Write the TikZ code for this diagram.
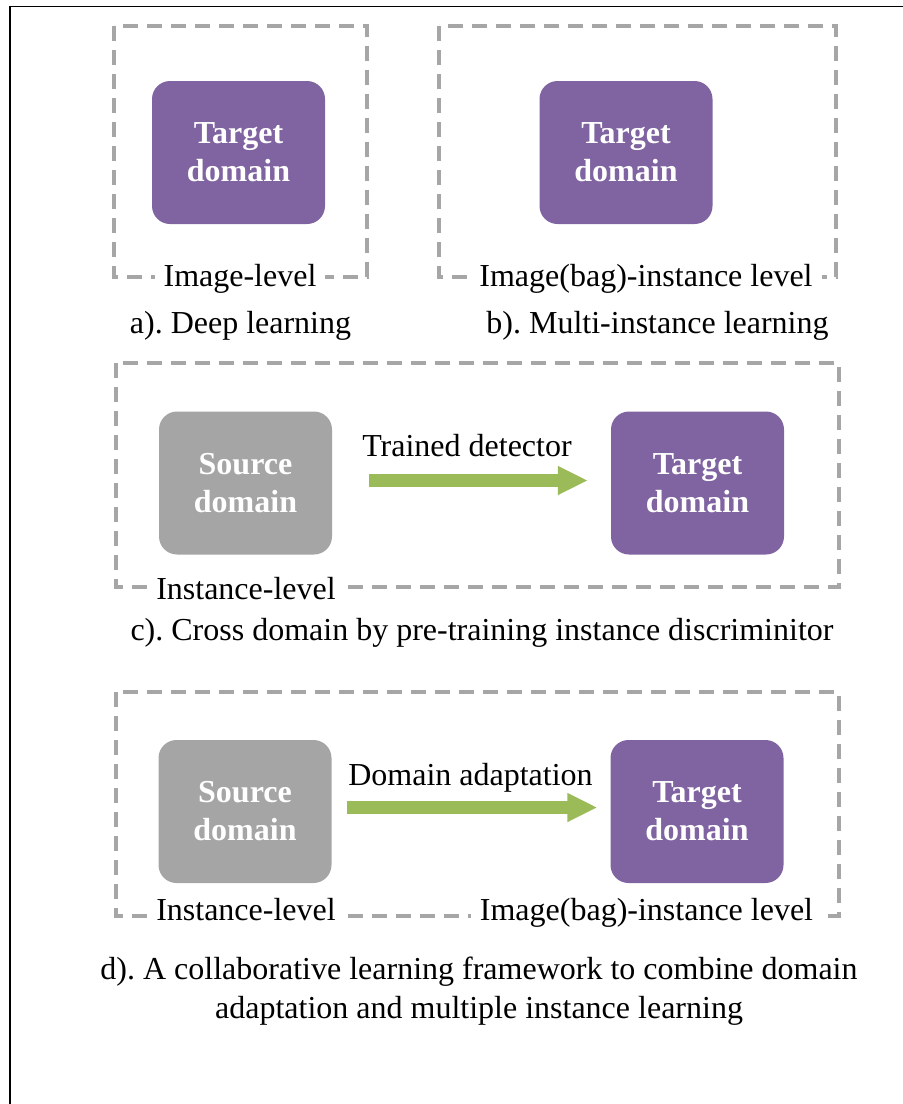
\documentclass[tikz,border=0pt]{standalone}
\usepackage{fontspec}
\setmainfont{Liberation Serif}
\usetikzlibrary{arrows.meta}
\frenchspacing
\definecolor{purp}{HTML}{8064A2}
\definecolor{srcgray}{HTML}{A5A5A5}
\definecolor{dashgray}{HTML}{A6A6A6}
\definecolor{arrgreen}{HTML}{9BBB59}
\tikzset{
  domainbox/.style={rounded corners=18pt, minimum width=173pt, minimum height=143pt,
    text=white, font=\fontsize{32}{38}\selectfont\bfseries, align=center, inner sep=0pt},
  tgt/.style={domainbox, fill=purp},
  src/.style={domainbox, fill=srcgray},
  frame/.style={draw=dashgray, line width=3.5pt, dash pattern=on 15pt off 9pt},
  txt/.style={font=\fontsize{32}{38}\selectfont\frenchspacing, anchor=base, inner sep=0pt},
  lvl/.style={txt, fill=white, inner xsep=9pt, inner ysep=3pt},
  bigarrow/.style={draw=arrgreen, line width=13pt, -{Triangle[length=30pt,width=27pt]}}
}
\begin{document}
\begin{tikzpicture}[x=1pt,y=-1pt]
\useasboundingbox (0,0) rectangle (903,1104);
% outer frame (left and top)
\draw[line width=1.3pt] (10,1104) -- (10,6.5) -- (903,6.5);

% a) Deep learning
\draw[frame] (114,26) rectangle (367,277);
\node[tgt] (ta) at (238.5,152.5) {Target\\domain};
\node[lvl] (la) at (240,286) {Image-level};
\node[txt] (capa) at (240.5,333) {a). Deep learning};

% b) Multi-instance learning
\draw[frame] (439,26) rectangle (836,277);
\node[tgt] (tb) at (626,152.5) {Target\\domain};
\node[lvl] (lb) at (646,286) {Image(bag)-instance level};
\node[txt] (capb) at (657.5,333) {b). Multi-instance learning};

% c) Cross domain
\draw[frame] (116,363) rectangle (839,587);
\node[src] (sc) at (245.5,483) {Source\\domain};
\node[tgt] (tc) at (697.5,483) {Target\\domain};
\draw[bigarrow, shorten <=37pt, shorten >=23pt] ([yshift=2.5pt]sc.east) -- ([yshift=2.5pt]tc.west);
\node[txt] (trc) at (467,456) {Trained detector};
\node[lvl] (lc) at (246,599) {Instance-level};
\node[txt] (capc) at (482,640) {c). Cross domain by pre-training instance discriminitor};

% d) Collaborative learning
\draw[frame] (116,692) rectangle (839,916);
\node[src] (sd) at (245,811.5) {Source\\domain};
\node[tgt] (td) at (697,811.5) {Target\\domain};
\draw[bigarrow, shorten <=15pt, shorten >=13pt] ([yshift=4pt]sd.east) -- ([yshift=4pt]td.west);
\node[txt] (dad) at (470.5,785) {Domain adaptation};
\node[lvl] (ld1) at (246,920) {Instance-level};
\node[lvl] (ld2) at (646.5,920) {Image(bag)-instance level};
\node[txt] (capd1) at (479,979) {d). A collaborative learning framework to combine domain};
\node[txt] (capd2) at (479,1018) {adaptation and multiple instance learning};
\end{tikzpicture}
\end{document}
